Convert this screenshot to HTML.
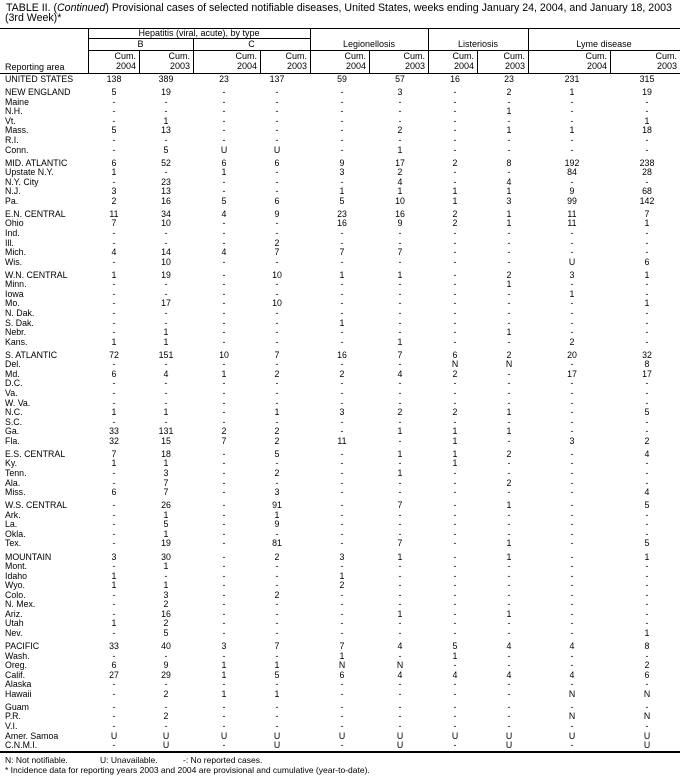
<!DOCTYPE html>
<html><head><meta charset="utf-8"><style>
*{margin:0;padding:0}
body{width:685px;height:781px;background:#fff;position:relative;font-family:"Liberation Sans",Arial,sans-serif;color:#000;overflow:hidden}
.a{position:absolute;white-space:nowrap}
.t{font-size:10.6px;left:6px}
.h{position:absolute;background:#000;height:1px}
.v{position:absolute;background:#000;width:1px}
.hd{position:absolute;font-size:9px;text-align:center;line-height:10px}
.g{position:absolute;left:0;width:685px}
.r{position:relative;height:9.57px;line-height:9.57px;font-size:8.8px}
.r b{font-weight:normal;position:absolute;left:5px;top:0}
.r i{font-style:normal;position:absolute;top:0;width:40px;text-align:center}
.r i:nth-of-type(1){left:94px}.r i:nth-of-type(2){left:146px}.r i:nth-of-type(3){left:204px}.r i:nth-of-type(4){left:257px}.r i:nth-of-type(5){left:322px}
.r i:nth-of-type(6){left:380px}.r i:nth-of-type(7){left:435px}.r i:nth-of-type(8){left:489px}.r i:nth-of-type(9){left:552px}.r i:nth-of-type(10){left:627px}
.f{font-size:8.5px;left:5px}
</style></head><body>
<div class="a t" style="top:2px">TABLE II. (<i>Continued</i>) Provisional cases of selected notifiable diseases, United States, weeks ending January 24, 2004, and January 18, 2003</div>
<div class="a t" style="top:12px;left:5px">(3rd Week)*</div>
<div class="h" style="top:28px;left:0;width:680px"></div>
<div class="h" style="top:38px;left:88px;width:222px"></div>
<div class="h" style="top:50px;left:88px;width:592px"></div>
<div class="h" style="top:73px;left:0;width:680px"></div>
<div class="v" style="left:88px;top:28px;height:45px"></div>
<div class="v" style="left:310px;top:28px;height:45px"></div>
<div class="v" style="left:428px;top:28px;height:45px"></div>
<div class="v" style="left:528px;top:28px;height:45px"></div>
<div class="v" style="left:193px;top:38px;height:35px"></div>
<div class="v" style="left:139px;top:50px;height:23px"></div>
<div class="v" style="left:260px;top:50px;height:23px"></div>
<div class="v" style="left:369px;top:50px;height:23px"></div>
<div class="v" style="left:477px;top:50px;height:23px"></div>
<div class="v" style="left:610px;top:50px;height:23px"></div>
<div class="hd" style="left:88px;width:222px;top:28px">Hepatitis (viral, acute), by type</div>
<div class="hd" style="left:88px;width:105px;top:39px">B</div>
<div class="hd" style="left:193px;width:117px;top:39px">C</div>
<div class="hd" style="left:310px;width:118px;top:39px">Legionellosis</div>
<div class="hd" style="left:428px;width:100px;top:39px">Listeriosis</div>
<div class="hd" style="left:528px;width:152px;top:39px">Lyme disease</div>
<div class="hd" style="left:5px;top:62px;text-align:left">Reporting area</div>
<div class="hd" style="left:88px;width:48px;top:51px;text-align:right">Cum.<br>2004</div>
<div class="hd" style="left:139px;width:51px;top:51px;text-align:right">Cum.<br>2003</div>
<div class="hd" style="left:193px;width:64px;top:51px;text-align:right">Cum.<br>2004</div>
<div class="hd" style="left:260px;width:47px;top:51px;text-align:right">Cum.<br>2003</div>
<div class="hd" style="left:310px;width:56px;top:51px;text-align:right">Cum.<br>2004</div>
<div class="hd" style="left:369px;width:56px;top:51px;text-align:right">Cum.<br>2003</div>
<div class="hd" style="left:428px;width:46px;top:51px;text-align:right">Cum.<br>2004</div>
<div class="hd" style="left:477px;width:48px;top:51px;text-align:right">Cum.<br>2003</div>
<div class="hd" style="left:528px;width:79px;top:51px;text-align:right">Cum.<br>2004</div>
<div class="hd" style="left:610px;width:67px;top:51px;text-align:right">Cum.<br>2003</div>

<div class="g" style="top:75.2px">
<div class="r"><b>UNITED STATES</b><i>138</i><i>389</i><i>23</i><i>137</i><i>59</i><i>57</i><i>16</i><i>23</i><i>231</i><i>315</i></div>
</div>
<div class="g" style="top:88.2px">
<div class="r"><b>NEW ENGLAND</b><i>5</i><i>19</i><i>-</i><i>-</i><i>-</i><i>3</i><i>-</i><i>2</i><i>1</i><i>19</i></div>
<div class="r"><b>Maine</b><i>-</i><i>-</i><i>-</i><i>-</i><i>-</i><i>-</i><i>-</i><i>-</i><i>-</i><i>-</i></div>
<div class="r"><b>N.H.</b><i>-</i><i>-</i><i>-</i><i>-</i><i>-</i><i>-</i><i>-</i><i>1</i><i>-</i><i>-</i></div>
<div class="r"><b>Vt.</b><i>-</i><i>1</i><i>-</i><i>-</i><i>-</i><i>-</i><i>-</i><i>-</i><i>-</i><i>1</i></div>
<div class="r"><b>Mass.</b><i>5</i><i>13</i><i>-</i><i>-</i><i>-</i><i>2</i><i>-</i><i>1</i><i>1</i><i>18</i></div>
<div class="r"><b>R.I.</b><i>-</i><i>-</i><i>-</i><i>-</i><i>-</i><i>-</i><i>-</i><i>-</i><i>-</i><i>-</i></div>
<div class="r"><b>Conn.</b><i>-</i><i>5</i><i>U</i><i>U</i><i>-</i><i>1</i><i>-</i><i>-</i><i>-</i><i>-</i></div>
</div>
<div class="g" style="top:158.6px">
<div class="r"><b>MID. ATLANTIC</b><i>6</i><i>52</i><i>6</i><i>6</i><i>9</i><i>17</i><i>2</i><i>8</i><i>192</i><i>238</i></div>
<div class="r"><b>Upstate N.Y.</b><i>1</i><i>-</i><i>1</i><i>-</i><i>3</i><i>2</i><i>-</i><i>-</i><i>84</i><i>28</i></div>
<div class="r"><b>N.Y. City</b><i>-</i><i>23</i><i>-</i><i>-</i><i>-</i><i>4</i><i>-</i><i>4</i><i>-</i><i>-</i></div>
<div class="r"><b>N.J.</b><i>3</i><i>13</i><i>-</i><i>-</i><i>1</i><i>1</i><i>1</i><i>1</i><i>9</i><i>68</i></div>
<div class="r"><b>Pa.</b><i>2</i><i>16</i><i>5</i><i>6</i><i>5</i><i>10</i><i>1</i><i>3</i><i>99</i><i>142</i></div>
</div>
<div class="g" style="top:209.9px">
<div class="r"><b>E.N. CENTRAL</b><i>11</i><i>34</i><i>4</i><i>9</i><i>23</i><i>16</i><i>2</i><i>1</i><i>11</i><i>7</i></div>
<div class="r"><b>Ohio</b><i>7</i><i>10</i><i>-</i><i>-</i><i>16</i><i>9</i><i>2</i><i>1</i><i>11</i><i>1</i></div>
<div class="r"><b>Ind.</b><i>-</i><i>-</i><i>-</i><i>-</i><i>-</i><i>-</i><i>-</i><i>-</i><i>-</i><i>-</i></div>
<div class="r"><b>Ill.</b><i>-</i><i>-</i><i>-</i><i>2</i><i>-</i><i>-</i><i>-</i><i>-</i><i>-</i><i>-</i></div>
<div class="r"><b>Mich.</b><i>4</i><i>14</i><i>4</i><i>7</i><i>7</i><i>7</i><i>-</i><i>-</i><i>-</i><i>-</i></div>
<div class="r"><b>Wis.</b><i>-</i><i>10</i><i>-</i><i>-</i><i>-</i><i>-</i><i>-</i><i>-</i><i>U</i><i>6</i></div>
</div>
<div class="g" style="top:270.8px">
<div class="r"><b>W.N. CENTRAL</b><i>1</i><i>19</i><i>-</i><i>10</i><i>1</i><i>1</i><i>-</i><i>2</i><i>3</i><i>1</i></div>
<div class="r"><b>Minn.</b><i>-</i><i>-</i><i>-</i><i>-</i><i>-</i><i>-</i><i>-</i><i>1</i><i>-</i><i>-</i></div>
<div class="r"><b>Iowa</b><i>-</i><i>-</i><i>-</i><i>-</i><i>-</i><i>-</i><i>-</i><i>-</i><i>1</i><i>-</i></div>
<div class="r"><b>Mo.</b><i>-</i><i>17</i><i>-</i><i>10</i><i>-</i><i>-</i><i>-</i><i>-</i><i>-</i><i>1</i></div>
<div class="r"><b>N. Dak.</b><i>-</i><i>-</i><i>-</i><i>-</i><i>-</i><i>-</i><i>-</i><i>-</i><i>-</i><i>-</i></div>
<div class="r"><b>S. Dak.</b><i>-</i><i>-</i><i>-</i><i>-</i><i>1</i><i>-</i><i>-</i><i>-</i><i>-</i><i>-</i></div>
<div class="r"><b>Nebr.</b><i>-</i><i>1</i><i>-</i><i>-</i><i>-</i><i>-</i><i>-</i><i>1</i><i>-</i><i>-</i></div>
<div class="r"><b>Kans.</b><i>1</i><i>1</i><i>-</i><i>-</i><i>-</i><i>1</i><i>-</i><i>-</i><i>2</i><i>-</i></div>
</div>
<div class="g" style="top:350.8px">
<div class="r"><b>S. ATLANTIC</b><i>72</i><i>151</i><i>10</i><i>7</i><i>16</i><i>7</i><i>6</i><i>2</i><i>20</i><i>32</i></div>
<div class="r"><b>Del.</b><i>-</i><i>-</i><i>-</i><i>-</i><i>-</i><i>-</i><i>N</i><i>N</i><i>-</i><i>8</i></div>
<div class="r"><b>Md.</b><i>6</i><i>4</i><i>1</i><i>2</i><i>2</i><i>4</i><i>2</i><i>-</i><i>17</i><i>17</i></div>
<div class="r"><b>D.C.</b><i>-</i><i>-</i><i>-</i><i>-</i><i>-</i><i>-</i><i>-</i><i>-</i><i>-</i><i>-</i></div>
<div class="r"><b>Va.</b><i>-</i><i>-</i><i>-</i><i>-</i><i>-</i><i>-</i><i>-</i><i>-</i><i>-</i><i>-</i></div>
<div class="r"><b>W. Va.</b><i>-</i><i>-</i><i>-</i><i>-</i><i>-</i><i>-</i><i>-</i><i>-</i><i>-</i><i>-</i></div>
<div class="r"><b>N.C.</b><i>1</i><i>1</i><i>-</i><i>1</i><i>3</i><i>2</i><i>2</i><i>1</i><i>-</i><i>5</i></div>
<div class="r"><b>S.C.</b><i>-</i><i>-</i><i>-</i><i>-</i><i>-</i><i>-</i><i>-</i><i>-</i><i>-</i><i>-</i></div>
<div class="r"><b>Ga.</b><i>33</i><i>131</i><i>2</i><i>2</i><i>-</i><i>1</i><i>1</i><i>1</i><i>-</i><i>-</i></div>
<div class="r"><b>Fla.</b><i>32</i><i>15</i><i>7</i><i>2</i><i>11</i><i>-</i><i>1</i><i>-</i><i>3</i><i>2</i></div>
</div>
<div class="g" style="top:449.9px">
<div class="r"><b>E.S. CENTRAL</b><i>7</i><i>18</i><i>-</i><i>5</i><i>-</i><i>1</i><i>1</i><i>2</i><i>-</i><i>4</i></div>
<div class="r"><b>Ky.</b><i>1</i><i>1</i><i>-</i><i>-</i><i>-</i><i>-</i><i>1</i><i>-</i><i>-</i><i>-</i></div>
<div class="r"><b>Tenn.</b><i>-</i><i>3</i><i>-</i><i>2</i><i>-</i><i>1</i><i>-</i><i>-</i><i>-</i><i>-</i></div>
<div class="r"><b>Ala.</b><i>-</i><i>7</i><i>-</i><i>-</i><i>-</i><i>-</i><i>-</i><i>2</i><i>-</i><i>-</i></div>
<div class="r"><b>Miss.</b><i>6</i><i>7</i><i>-</i><i>3</i><i>-</i><i>-</i><i>-</i><i>-</i><i>-</i><i>4</i></div>
</div>
<div class="g" style="top:501.2px">
<div class="r"><b>W.S. CENTRAL</b><i>-</i><i>26</i><i>-</i><i>91</i><i>-</i><i>7</i><i>-</i><i>1</i><i>-</i><i>5</i></div>
<div class="r"><b>Ark.</b><i>-</i><i>1</i><i>-</i><i>1</i><i>-</i><i>-</i><i>-</i><i>-</i><i>-</i><i>-</i></div>
<div class="r"><b>La.</b><i>-</i><i>5</i><i>-</i><i>9</i><i>-</i><i>-</i><i>-</i><i>-</i><i>-</i><i>-</i></div>
<div class="r"><b>Okla.</b><i>-</i><i>1</i><i>-</i><i>-</i><i>-</i><i>-</i><i>-</i><i>-</i><i>-</i><i>-</i></div>
<div class="r"><b>Tex.</b><i>-</i><i>19</i><i>-</i><i>81</i><i>-</i><i>7</i><i>-</i><i>1</i><i>-</i><i>5</i></div>
</div>
<div class="g" style="top:552.5px">
<div class="r"><b>MOUNTAIN</b><i>3</i><i>30</i><i>-</i><i>2</i><i>3</i><i>1</i><i>-</i><i>1</i><i>-</i><i>1</i></div>
<div class="r"><b>Mont.</b><i>-</i><i>1</i><i>-</i><i>-</i><i>-</i><i>-</i><i>-</i><i>-</i><i>-</i><i>-</i></div>
<div class="r"><b>Idaho</b><i>1</i><i>-</i><i>-</i><i>-</i><i>1</i><i>-</i><i>-</i><i>-</i><i>-</i><i>-</i></div>
<div class="r"><b>Wyo.</b><i>1</i><i>1</i><i>-</i><i>-</i><i>2</i><i>-</i><i>-</i><i>-</i><i>-</i><i>-</i></div>
<div class="r"><b>Colo.</b><i>-</i><i>3</i><i>-</i><i>2</i><i>-</i><i>-</i><i>-</i><i>-</i><i>-</i><i>-</i></div>
<div class="r"><b>N. Mex.</b><i>-</i><i>2</i><i>-</i><i>-</i><i>-</i><i>-</i><i>-</i><i>-</i><i>-</i><i>-</i></div>
<div class="r"><b>Ariz.</b><i>-</i><i>16</i><i>-</i><i>-</i><i>-</i><i>1</i><i>-</i><i>1</i><i>-</i><i>-</i></div>
<div class="r"><b>Utah</b><i>1</i><i>2</i><i>-</i><i>-</i><i>-</i><i>-</i><i>-</i><i>-</i><i>-</i><i>-</i></div>
<div class="r"><b>Nev.</b><i>-</i><i>5</i><i>-</i><i>-</i><i>-</i><i>-</i><i>-</i><i>-</i><i>-</i><i>1</i></div>
</div>
<div class="g" style="top:642px">
<div class="r"><b>PACIFIC</b><i>33</i><i>40</i><i>3</i><i>7</i><i>7</i><i>4</i><i>5</i><i>4</i><i>4</i><i>8</i></div>
<div class="r"><b>Wash.</b><i>-</i><i>-</i><i>-</i><i>-</i><i>1</i><i>-</i><i>1</i><i>-</i><i>-</i><i>-</i></div>
<div class="r"><b>Oreg.</b><i>6</i><i>9</i><i>1</i><i>1</i><i>N</i><i>N</i><i>-</i><i>-</i><i>-</i><i>2</i></div>
<div class="r"><b>Calif.</b><i>27</i><i>29</i><i>1</i><i>5</i><i>6</i><i>4</i><i>4</i><i>4</i><i>4</i><i>6</i></div>
<div class="r"><b>Alaska</b><i>-</i><i>-</i><i>-</i><i>-</i><i>-</i><i>-</i><i>-</i><i>-</i><i>-</i><i>-</i></div>
<div class="r"><b>Hawaii</b><i>-</i><i>2</i><i>1</i><i>1</i><i>-</i><i>-</i><i>-</i><i>-</i><i>N</i><i>N</i></div>
</div>
<div class="g" style="top:702.9px">
<div class="r"><b>Guam</b><i>-</i><i>-</i><i>-</i><i>-</i><i>-</i><i>-</i><i>-</i><i>-</i><i>-</i><i>-</i></div>
<div class="r"><b>P.R.</b><i>-</i><i>2</i><i>-</i><i>-</i><i>-</i><i>-</i><i>-</i><i>-</i><i>N</i><i>N</i></div>
<div class="r"><b>V.I.</b><i>-</i><i>-</i><i>-</i><i>-</i><i>-</i><i>-</i><i>-</i><i>-</i><i>-</i><i>-</i></div>
<div class="r"><b>Amer. Samoa</b><i>U</i><i>U</i><i>U</i><i>U</i><i>U</i><i>U</i><i>U</i><i>U</i><i>U</i><i>U</i></div>
<div class="r"><b>C.N.M.I.</b><i>-</i><i>U</i><i>-</i><i>U</i><i>-</i><i>U</i><i>-</i><i>U</i><i>-</i><i>U</i></div>
</div>
<div class="h" style="top:751px;left:0;width:680px;height:2px"></div>
<div class="a f" style="top:755px">N: Not notifiable.<span style="position:absolute;left:95px">U: Unavailable.</span><span style="position:absolute;left:178px">-: No reported cases.</span></div>
<div class="a f" style="top:765px">* Incidence data for reporting years 2003 and 2004 are provisional and cumulative (year-to-date).</div>
</body></html>
